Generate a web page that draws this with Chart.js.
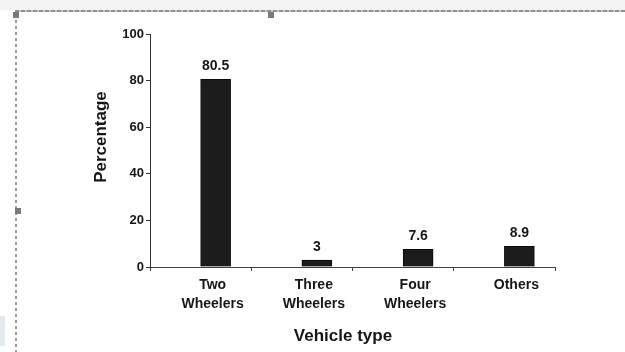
<!DOCTYPE html>
<html>
<head>
<meta charset="utf-8">
<script src="https://cdn.jsdelivr.net/npm/chart.js@4"></script>
<style>
  html, body { margin: 0; padding: 0; background: #fff; }
  #frame { position: relative; width: 625px; height: 352px; overflow: hidden; background: #fff; }
  #chart { position: absolute; left: 0; top: 0; }
  .band { position: absolute; left: 0; top: 0; width: 625px; height: 10px; background: #f3f3f3; }
  .edge-top { position: absolute; left: 15px; top: 10px; width: 610px; height: 2px;
    background: repeating-linear-gradient(to right, #8f8f8f 0 4px, #c8c8c8 4px 6px); }
  .edge-left { position: absolute; left: 15px; top: 14px; width: 2px; height: 340px;
    background: repeating-linear-gradient(to bottom, #9a9a9a 0 3px, #ffffff 3px 6px); }
  .handle { position: absolute; width: 6px; height: 6px; background: #7a7a7a; }
  .tab { position: absolute; left: 0; top: 316px; width: 5px; height: 30px; background: #e3eaef; }
</style>
</head>
<body>
<div id="frame">
  <div class="band"></div>
  <div class="edge-top"></div>
  <div class="edge-left"></div>
  <div class="handle" style="left:13px;top:12px"></div>
  <div class="handle" style="left:268px;top:12px"></div>
  <div class="handle" style="left:15px;top:208px"></div>
  <div class="tab"></div>
  <canvas id="chart" width="625" height="352"></canvas>
</div>
<script>
// Share of vehicles by type
const categories = [['Two', 'Wheelers'], ['Three', 'Wheelers'], ['Four', 'Wheelers'], 'Others'];
const percentages = [80.5, 3, 7.6, 8.9];
const spacer = [null, null, null, null];
const yTicks = [0, 20, 40, 60, 80, 100];
const xTitle = 'Vehicle type';
const yTitle = 'Percentage';

const FONT = '"Liberation Sans", Arial, Helvetica, sans-serif';
const INK = '#161616';

// Numbers printed above each bar
const valueLabels = {
  id: 'valueLabels',
  afterDatasetsDraw(chart) {
    const ctx = chart.ctx;
    const meta = chart.getDatasetMeta(1);
    ctx.save();
    ctx.font = 'bold 14px ' + FONT;
    ctx.fillStyle = INK;
    ctx.textAlign = 'center';
    ctx.textBaseline = 'bottom';
    meta.data.forEach((bar, i) => {
      ctx.fillText(String(percentages[i]), bar.x, bar.y - 6);
    });
    ctx.restore();
  }
};

// Axis titles
const axisTitles = {
  id: 'axisTitles',
  afterDraw(chart) {
    const ctx = chart.ctx;
    ctx.save();
    ctx.font = 'bold 17px ' + FONT;
    ctx.fillStyle = INK;
    ctx.textAlign = 'center';
    ctx.textBaseline = 'middle';
    ctx.fillText(xTitle, 343, 336);
    ctx.translate(101, 137);
    ctx.rotate(-Math.PI / 2);
    ctx.fillText(yTitle, 0, 0);
    ctx.restore();
  }
};

new Chart(document.getElementById('chart'), {
  type: 'bar',
  data: {
    labels: categories,
    datasets: [
      { label: '', data: spacer, barThickness: 30, backgroundColor: INK },
      {
        label: yTitle,
        data: percentages,
        barThickness: 30,
        backgroundColor: '#1c1c1c',
        borderColor: '#0a0a0a',
        borderWidth: 1
      }
    ]
  },
  options: {
    responsive: false,
    animation: false,
    layout: { padding: { left: 90, right: 70, top: 34, bottom: 0 } },
    plugins: {
      legend: { display: false },
      tooltip: { enabled: false }
    },
    scales: {
      x: {
        offset: true,
        grid: {
          offset: true,
          drawOnChartArea: false,
          drawTicks: true,
          tickLength: 4,
          color: '#444'
        },
        border: { color: '#444', width: 1 },
        ticks: {
          color: INK,
          font: { family: FONT, size: 14, weight: 'bold', lineHeight: 1.4 },
          padding: 4,
          labelOffset: 12,
          maxRotation: 0,
          autoSkip: false
        },
        afterFit(scale) { scale.height = 85; }
      },
      y: {
        min: 0,
        max: 100,
        afterBuildTicks(scale) { scale.ticks = yTicks.map(v => ({ value: v })); },
        grid: {
          drawOnChartArea: false,
          drawTicks: true,
          tickLength: 4,
          color: '#333'
        },
        border: { color: '#333', width: 1 },
        ticks: {
          color: INK,
          font: { family: FONT, size: 13, weight: 'bold' },
          padding: 2
        },
        afterFit(scale) { scale.width = 60; }
      }
    }
  },
  plugins: [valueLabels, axisTitles]
});
</script>
</body>
</html>
